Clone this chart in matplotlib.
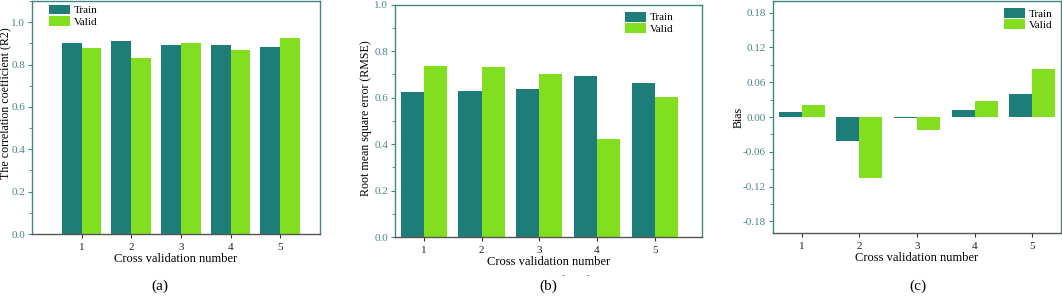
import matplotlib.pyplot as plt
import numpy as np
from matplotlib.ticker import MultipleLocator, FormatStrFormatter

plt.rcParams['font.family'] = ['Liberation Serif', 'DejaVu Serif']
plt.rcParams['axes.unicode_minus'] = False

folds = [1, 2, 3, 4, 5]
fold_labels = ['1', '2', '3', '4', '5']

r2_train = [0.901, 0.909, 0.890, 0.893, 0.884]
r2_valid = [0.877, 0.832, 0.903, 0.868, 0.926]

rmse_train = [0.626, 0.628, 0.637, 0.694, 0.661]
rmse_valid = [0.736, 0.732, 0.703, 0.423, 0.604]

bias_train = [0.009, -0.042, -0.002, 0.012, 0.040]
bias_valid = [0.020, -0.105, -0.022, 0.028, 0.083]

train_col = '#1F7D79'
valid_col = '#82DF1F'
spine_col = '#3F8784'
ytick_col = '#4A8886'

fig = plt.figure(figsize=(10.62, 2.97), dpi=100)

# axes rect, train, valid, ylabel, xlim, ylim, major, minor, fmt,
# legend corner/anchor, ylabel coords, tag, tag x
panels = [
    ([0.0301, 0.2121, 0.2712, 0.7845], r2_train, r2_valid, 'The correlation coefficient (R2)',
     (0, 5.8), (0, 1.1), 0.2, 0.1, '%.1f', 'upper left', (0.059, 0.985), (-0.072, 0.56), '(a)', 0.151),
    ([0.3719, 0.2020, 0.2891, 0.7820], rmse_train, rmse_valid, 'Root mean square error (RMSE)',
     (0.5, 5.82), (0, 1.0), 0.2, 0.1, '%.1f', 'upper right', (0.909, 0.97), (-0.074, 0.51), '(b)', 0.516),
    ([0.7279, 0.2155, 0.2712, 0.7810], bias_train, bias_valid, 'Bias',
     (0.5, 5.5), (-0.2, 0.2), 0.06, 0.03, '%.2f', 'upper right', (0.971, 0.97), (-0.097, 0.5), '(c)', 0.864),
]

x = np.array(folds)
w = 0.4
for pos, tr, va, ylab, xl, yl, maj, mnr, fmt, loc, anchor, lab_xy, tag, tagx in panels:
    ax = fig.add_axes(pos)
    ax.bar(x - w / 2, tr, w, color=train_col, label='Train')
    ax.bar(x + w / 2, va, w, color=valid_col, label='Valid')
    ax.set_xlim(*xl)
    ax.set_ylim(*yl)
    ax.set_xticks(x)
    ax.set_xticklabels(fold_labels)
    ax.yaxis.set_major_locator(MultipleLocator(maj))
    ax.yaxis.set_minor_locator(MultipleLocator(mnr))
    ax.yaxis.set_major_formatter(FormatStrFormatter(fmt))
    if tag == '(c)':
        ax.set_yticks([-0.18, -0.12, -0.06, 0.0, 0.06, 0.12, 0.18])
        ax.set_yticks(np.arange(-0.15, 0.16, 0.06), minor=True)
    ax.tick_params(axis='y', which='major', direction='out', length=3, width=0.8, pad=2,
                   colors=spine_col, labelcolor=ytick_col, labelsize=8)
    ax.tick_params(axis='y', which='minor', direction='out', length=2, width=0.6, colors=spine_col)
    ax.tick_params(axis='x', direction='out', length=3, width=0.8, colors='#333333',
                   labelcolor='#222222', labelsize=8)
    for s in ['left', 'right', 'top']:
        ax.spines[s].set_color(spine_col)
        ax.spines[s].set_linewidth(1.0)
    ax.spines['bottom'].set_color('#555555')
    ax.spines['bottom'].set_linewidth(1.0)
    ax.set_xlabel('Cross validation number', fontsize=9, labelpad=1)
    ax.set_ylabel(ylab, fontsize=8.6)
    ax.yaxis.set_label_coords(*lab_xy)
    ax.legend(loc=loc, bbox_to_anchor=anchor, frameon=False, fontsize=8, handlelength=1.9,
              handleheight=1.0, labelspacing=0.05, handletextpad=0.35,
              borderaxespad=0, borderpad=0)
    fig.text(tagx, 0.035, tag, fontsize=11, ha='center', va='center')

# small stray marks under panel (b) in the original
fig.text(563 / 1062, 1 - 276 / 297, '-', fontsize=6, color='#555555', ha='center', va='center')
fig.text(588 / 1062, 1 - 276 / 297, '-', fontsize=6, color='#555555', ha='center', va='center')

fig.savefig('out.png', dpi=100)
